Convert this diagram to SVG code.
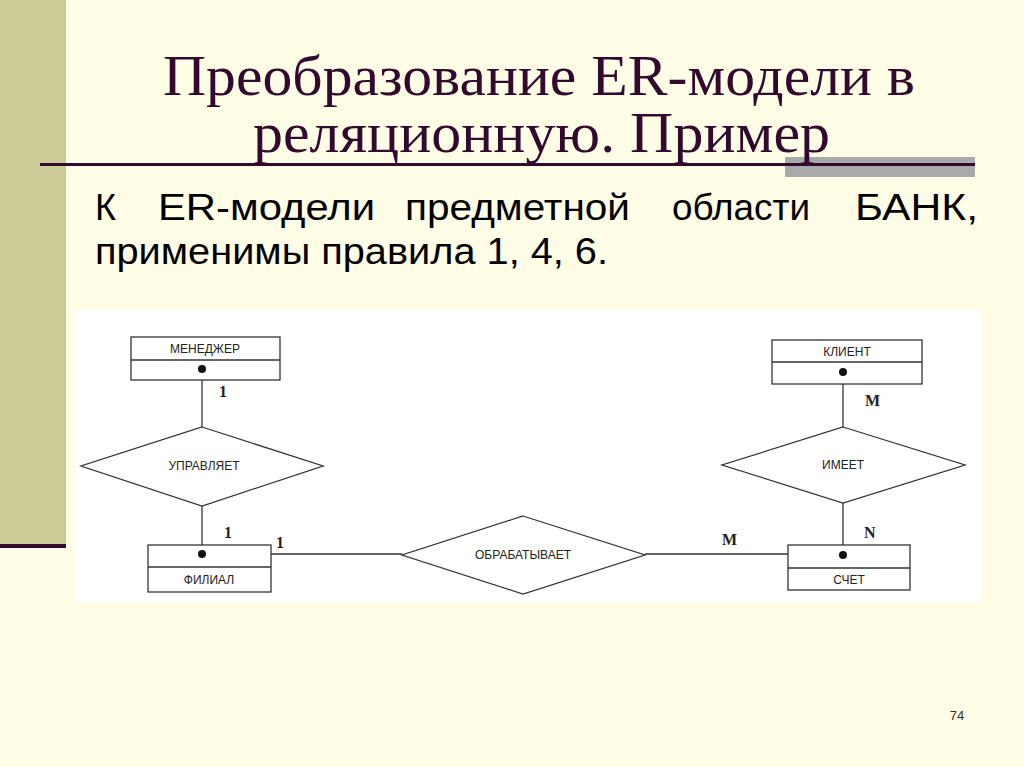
<svg xmlns="http://www.w3.org/2000/svg" width="1024" height="767" viewBox="0 0 1024 767">
<style>
.box{fill:#fff;stroke:#333;stroke-width:1.3}
.ln{stroke:#333;stroke-width:1.3;fill:none}
.lbl{font-family:"Liberation Sans",Arial,sans-serif;font-size:12px;fill:#222;text-anchor:middle}
.card{font-family:"Liberation Serif","Times New Roman",serif;font-size:16px;font-weight:bold;fill:#222}
.title{font-family:"Liberation Serif","Times New Roman",serif;font-size:56px;fill:#330a2e}
.body{font-family:"Liberation Sans",Arial,sans-serif;font-size:36px;fill:#000}
</style>
<rect width="1024" height="767" fill="#fffde6"/>
<rect x="0" y="0" width="66" height="544" fill="#cccc99"/>
<rect x="0" y="544" width="66" height="4" fill="#330a2e"/>
<rect x="785" y="157" width="190" height="20" fill="#aaaaaa"/>
<rect x="40" y="163" width="935" height="3" fill="#330a2e"/>
<text class="title" x="163" y="95" textLength="752" lengthAdjust="spacingAndGlyphs">Преобразование ER-модели в</text>
<text class="title" x="253" y="152" textLength="577" lengthAdjust="spacingAndGlyphs">реляционную. Пример</text>
<text class="body" x="95" y="220">К</text>
<text class="body" x="158" y="220" textLength="217" lengthAdjust="spacingAndGlyphs">ER-модели</text>
<text class="body" x="405" y="220" textLength="225" lengthAdjust="spacingAndGlyphs">предметной</text>
<text class="body" x="672" y="220" textLength="138" lengthAdjust="spacingAndGlyphs">области</text>
<text class="body" x="855" y="220" textLength="123" lengthAdjust="spacingAndGlyphs">БАНК,</text>
<text class="body" x="95" y="264" textLength="513" lengthAdjust="spacingAndGlyphs">применимы правила 1, 4, 6.</text>
<rect x="76" y="310" width="906" height="292" fill="#fff"/>
<g id="connectors">
<line class="ln" x1="202" y1="369" x2="202" y2="427"/>
<line class="ln" x1="202" y1="506" x2="202" y2="554"/>
<line class="ln" x1="202" y1="554" x2="402" y2="554"/>
<line class="ln" x1="645" y1="554" x2="843" y2="554"/>
<line class="ln" x1="843" y1="372" x2="843" y2="427"/>
<line class="ln" x1="843" y1="503" x2="843" y2="554"/>
<text class="card" x="219" y="397">1</text>
<text class="card" x="224" y="538">1</text>
<text class="card" x="276" y="548">1</text>
<text class="card" x="722" y="545">M</text>
<text class="card" x="864" y="538">N</text>
<text class="card" x="865" y="406">M</text>
</g>
<g id="manager"><rect class="box" x="131" y="337" width="149" height="43"/><line class="ln" x1="131" y1="360" x2="280" y2="360"/><text class="lbl" x="205" y="353">МЕНЕДЖЕР</text><circle cx="202" cy="369" r="4" fill="#111"/></g>
<g id="filial"><rect class="box" x="148" y="545" width="123" height="47"/><line class="ln" x1="148" y1="567" x2="271" y2="567"/><text class="lbl" x="209" y="584">ФИЛИАЛ</text><circle cx="202" cy="554" r="4" fill="#111"/></g>
<g id="client"><rect class="box" x="772" y="340" width="150" height="44"/><line class="ln" x1="772" y1="362" x2="922" y2="362"/><text class="lbl" x="847" y="356">КЛИЕНТ</text><circle cx="843" cy="372" r="4" fill="#111"/></g>
<g id="schet"><rect class="box" x="788" y="545" width="122" height="45"/><line class="ln" x1="788" y1="568" x2="910" y2="568"/><text class="lbl" x="849" y="584">СЧЕТ</text><circle cx="843" cy="555" r="4" fill="#111"/></g>
<g id="upravlyaet"><polygon class="box" points="202,427 323,466 202,506 81,466"/><text class="lbl" x="204" y="470">УПРАВЛЯЕТ</text></g>
<g id="obrabatyvaet"><polygon class="box" points="523,516 645,555 523,594 402,555"/><text class="lbl" x="523" y="559">ОБРАБАТЫВАЕТ</text></g>
<g id="imeet"><polygon class="box" points="843,427 965,465 843,503 722,465"/><text class="lbl" x="843" y="469">ИМЕЕТ</text></g>
<text x="957" y="720" font-family="Liberation Sans,Arial,sans-serif" font-size="13" fill="#333" text-anchor="middle">74</text>
</svg>
